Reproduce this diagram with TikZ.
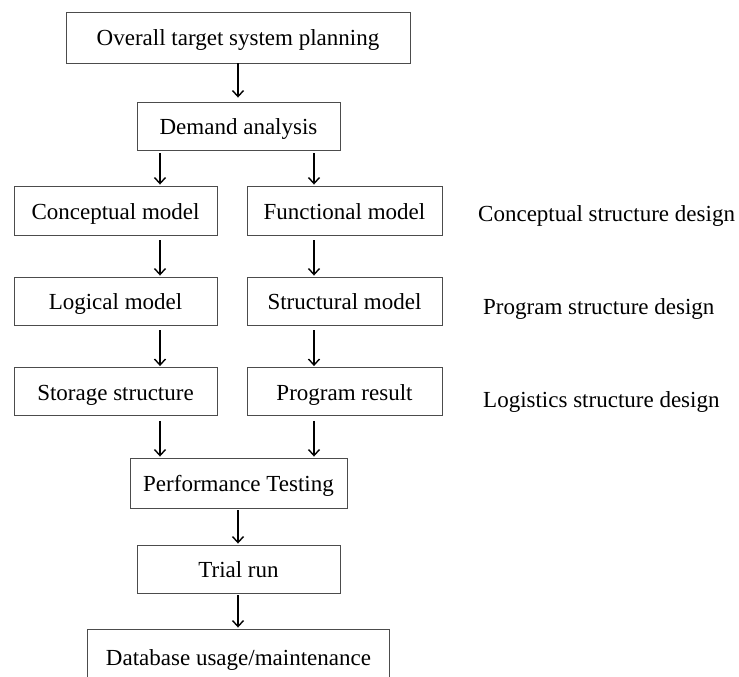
\documentclass[tikz,border=0pt]{standalone}
\usepackage{fontspec}
\setmainfont{Liberation Serif}
\usetikzlibrary{arrows.meta, positioning}

\begin{document}
\begin{tikzpicture}[x=1pt, y=-1pt,
        box/.style={draw=black!70, line width=0.9pt, rectangle, minimum height=48pt, inner sep=0pt},
        arr/.style={-{Straight Barb[length=6pt,width=11pt]}, line width=1.4pt},
        side/.style={anchor=west, inner sep=0pt},
        every node/.style={font=\fontsize{23}{27}\selectfont, text height=19pt, text depth=2pt}]
        \useasboundingbox (0, 0) rectangle (739, 677);

        % Column positions of the arrows
        \coordinate (lcol) at (160, 0);
        \coordinate (rcol) at (314, 0);
        \coordinate (mcol) at (238, 0);

        % Boxes
        \node[box, minimum width=344pt, minimum height=51pt] (plan) at (238, 37.5) {Overall target system planning};
        \node[box, minimum width=203pt] (demand) at (238.5, 126) {Demand analysis};
        \node[box, minimum width=203pt, minimum height=49pt] (concept) at (115.5, 210.5) {Conceptual model};
        \node[box, minimum width=195pt, minimum height=49pt] (func) at (344.5, 210.5) {Functional model};
        \node[box, minimum width=203pt] (logic) at (115.5, 301) {Logical model};
        \node[box, minimum width=195pt] (struct) at (344.5, 301) {Structural model};
        \node[box, minimum width=203pt] (storage) at (115.5, 391.5) {Storage structure};
        \node[box, minimum width=195pt] (result) at (344.5, 391.5) {Program result};
        \node[box, minimum width=217pt, minimum height=50pt] (perf) at (238.5, 483) {Performance Testing};
        \node[box, minimum width=203pt] (trial) at (238.5, 569) {Trial run};
        \node[box, minimum width=302pt, minimum height=56pt] (db) at (238.5, 657) {Database usage/maintenance};

        % Side labels
        \node[side] (cdesign) at (478, 213) {Conceptual structure design};
        \node[side] (pdesign) at (483, 306) {Program structure design};
        \node[side] (ldesign) at (483, 399) {Logistics structure design};

        % Arrows
        \draw[arr, shorten >=4pt] (plan.south -| mcol) -- (demand.north -| mcol);
        \draw[arr, shorten <=3pt, shorten >=1pt] (demand.south -| lcol) -- (concept.north -| lcol);
        \draw[arr, shorten <=3pt, shorten >=1pt] (demand.south -| rcol) -- (func.north -| rcol);
        \draw[arr, shorten <=5pt, shorten >=1pt] (concept.south -| lcol) -- (logic.north -| lcol);
        \draw[arr, shorten <=5pt, shorten >=1pt] (func.south -| rcol) -- (struct.north -| rcol);
        \draw[arr, shorten <=5pt, shorten >=1pt] (logic.south -| lcol) -- (storage.north -| lcol);
        \draw[arr, shorten <=5pt, shorten >=1pt] (struct.south -| rcol) -- (result.north -| rcol);
        \draw[arr, shorten <=5pt, shorten >=1pt] (storage.south -| lcol) -- (perf.north -| lcol);
        \draw[arr, shorten <=5pt, shorten >=1pt] (result.south -| rcol) -- (perf.north -| rcol);
        \draw[arr, shorten <=2pt, shorten >=1pt] (perf.south -| mcol) -- (trial.north -| mcol);
        \draw[arr, shorten <=2pt, shorten >=1pt] (trial.south -| mcol) -- (db.north -| mcol);
\end{tikzpicture}
\end{document}
